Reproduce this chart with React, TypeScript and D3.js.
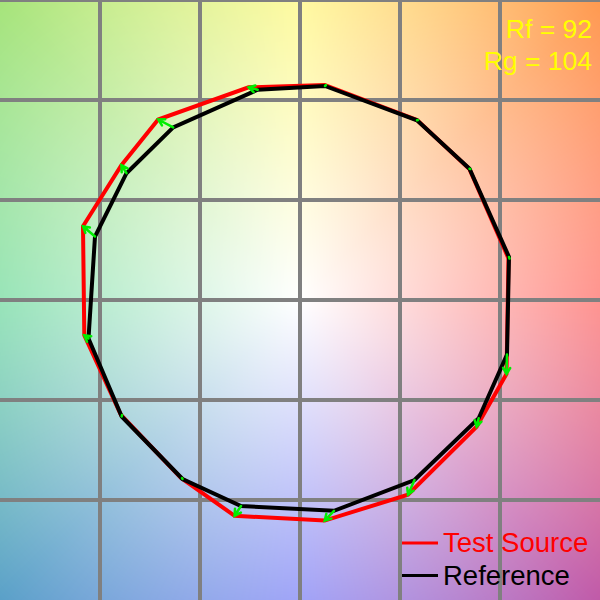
import React, { useEffect, useMemo } from "react";
import * as d3 from "d3";

const W = 600;
const H = 600;

// Reference illuminant chroma coordinates per hue bin (a', b' normalized)
const refA = [0.125, 0.585, 0.8475, 1.045, 1.035, 0.8935, 0.5725, 0.17, -0.295, -0.5875, -0.8915, -1.0575, -1.025, -0.8675, -0.634, -0.2115];
const refB = [1.07, 0.8985, 0.656, 0.215, -0.2725, -0.591, -0.9, -1.054, -1.03, -0.895, -0.5825, -0.1925, 0.3175, 0.634, 0.863, 1.0515];

// Test source chroma coordinates per hue bin
const testA = [0.125, 0.585, 0.847, 1.0425, 1.0325, 0.883, 0.54, 0.1235, -0.327, -0.595, -0.895, -1.0785, -1.085, -0.893, -0.709, -0.257];
const testB = [1.075, 0.9, 0.655, 0.2075, -0.37, -0.6335, -0.9735, -1.103, -1.079, -0.89, -0.575, -0.1765, 0.3685, 0.674, 0.9025, 1.0635];

const RF = 92;
const RG = 104;

const GRID_X = [-1, -0.5, 0, 0.5, 1];
const GRID_Y = [1.5, 1, 0.5, 0, -0.5, -1];

// Hue wheel used for the background, angle in degrees (counter-clockwise from +a')
const HUE_ANGLES = [0, 45, 90, 135, 180, 225, 270, 315, 360];
const HUE_COLORS = ["#ff6862", "#ff9a50", "#fff879", "#a6e47a", "#6dd99b", "#5aa0c8", "#797ef5", "#c05aa8", "#ff6862"];

const LEGEND = [
  { label: "Test Source", color: "#ff0000" },
  { label: "Reference", color: "#000000" },
];

const x = d3.scaleLinear().domain([-1.5, 1.5]).range([0, W]);
const y = d3.scaleLinear().domain([-1.5, 1.5]).range([H, 0]);

function useBackground(): string {
  return useMemo(() => {
    const canvas = document.createElement("canvas");
    canvas.width = W;
    canvas.height = H;
    const ctx = canvas.getContext("2d");
    if (!ctx) return "";
    const img = ctx.createImageData(W, H);
    const hue = d3
      .scaleLinear<string>()
      .domain(HUE_ANGLES)
      .range(HUE_COLORS)
      .interpolate(d3.interpolateRgb);
    const rMax = Math.hypot(W / 2, H / 2);
    // cache hue colours in tenth-of-a-degree steps
    const steps = 3600;
    const lut: number[][] = [];
    for (let i = 0; i <= steps; i++) {
      const c = d3.rgb(hue((i / steps) * 360));
      lut.push([c.r, c.g, c.b]);
    }
    for (let py = 0; py < H; py++) {
      for (let px = 0; px < W; px++) {
        const dx = px + 0.5 - W / 2;
        const dy = H / 2 - (py + 0.5);
        let ang = (Math.atan2(dy, dx) * 180) / Math.PI;
        if (ang < 0) ang += 360;
        const t = Math.min(1, Math.hypot(dx, dy) / rMax);
        const c = lut[Math.round((ang / 360) * steps)];
        const k = (py * W + px) * 4;
        img.data[k] = 255 + (c[0] - 255) * t;
        img.data[k + 1] = 255 + (c[1] - 255) * t;
        img.data[k + 2] = 255 + (c[2] - 255) * t;
        img.data[k + 3] = 255;
      }
    }
    ctx.putImageData(img, 0, 0);
    return canvas.toDataURL();
  }, []);
}

function polygonPath(as: number[], bs: number[]): string {
  const line = d3
    .line<number>()
    .x((_, i) => x(as[i]))
    .y((_, i) => y(bs[i]))
    .curve(d3.curveLinearClosed);
  return line(as) || "";
}

function arrowPath(i: number): string {
  const x0 = x(refA[i]);
  const y0 = y(refB[i]);
  const x1 = x(testA[i]);
  const y1 = y(testB[i]);
  const a = Math.atan2(y1 - y0, x1 - x0);
  const len = 7;
  const spread = (30 * Math.PI) / 180;
  const hx1 = x1 - len * Math.cos(a - spread);
  const hy1 = y1 - len * Math.sin(a - spread);
  const hx2 = x1 - len * Math.cos(a + spread);
  const hy2 = y1 - len * Math.sin(a + spread);
  const dist = Math.hypot(x1 - x0, y1 - y0);
  if (dist < 2) {
    return `M${x0},${y0}L${x1 + 1},${y1}`;
  }
  return `M${x0},${y0}L${x1},${y1}M${hx1},${hy1}L${x1},${y1}L${hx2},${hy2}`;
}

export default function App() {
  const bg = useBackground();

  useEffect(() => {
    document.body.style.margin = "0";
  }, []);

  const font = "'Liberation Sans', Arial, Helvetica, sans-serif";

  return (
    <svg width={W} height={H} style={{ display: "block" }} fontFamily={font}>
      {bg && <image href={bg} x={0} y={0} width={W} height={H} />}
      <g stroke="#808080" strokeWidth={4}>
        {GRID_X.map((v) => (
          <line key={`gx${v}`} x1={x(v)} x2={x(v)} y1={0} y2={H} />
        ))}
        {GRID_Y.map((v) => (
          <line key={`gy${v}`} x1={0} x2={W} y1={y(v)} y2={y(v)} />
        ))}
      </g>
      <path d={polygonPath(testA, testB)} fill="none" stroke="#ff0000" strokeWidth={4} strokeLinejoin="miter" />
      <path d={polygonPath(refA, refB)} fill="none" stroke="#000000" strokeWidth={4} strokeLinejoin="miter" />
      <g stroke="#00ee00" strokeWidth={2.5} fill="none" strokeLinecap="round">
        {refA.map((_, i) => (
          <path key={i} d={arrowPath(i)} />
        ))}
      </g>
      <g fill="#ffff00" fontSize={26.5} textAnchor="end">
        <text x={592} y={38}>{`Rf = ${RF}`}</text>
        <text x={592} y={70}>{`Rg = ${RG}`}</text>
      </g>
      <g fontSize={27.5}>
        {LEGEND.map((d, i) => (
          <g key={d.label} transform={`translate(0,${i * 32.5})`}>
            <line x1={402} x2={438} y1={543} y2={543} stroke={d.color} strokeWidth={3} />
            <text x={443} y={552} fill={d.color}>
              {d.label}
            </text>
          </g>
        ))}
      </g>
    </svg>
  );
}
